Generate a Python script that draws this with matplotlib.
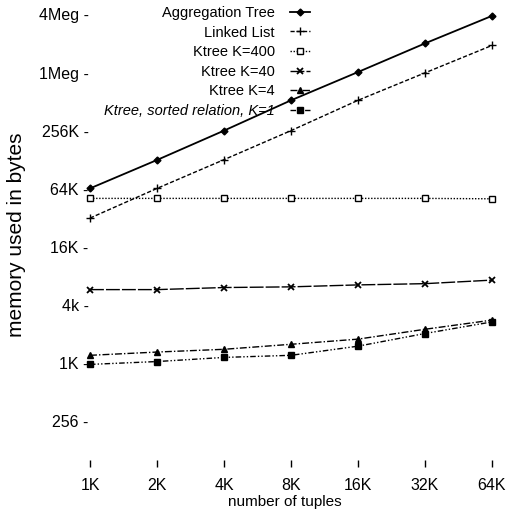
import matplotlib
matplotlib.use('Agg')
import matplotlib.pyplot as plt
import numpy as np

# number of tuples (x) and memory in bytes (y)
tuples = [1024, 2048, 4096, 8192, 16384, 32768, 65536]
x_labels = ['1K', '2K', '4K', '8K', '16K', '32K', '64K']

agg_tree = [66000, 130000, 262000, 540000, 1060000, 2100000, 4050000]
linked_list = [32500, 66000, 131000, 262000, 540000, 1040000, 2000000]
ktree_400 = [52000, 52000, 52000, 52000, 52000, 52000, 51500]
ktree_40 = [5900, 5900, 6200, 6300, 6600, 6800, 7400]
ktree_4 = [1230, 1330, 1420, 1600, 1810, 2290, 2850]
ktree_1 = [990, 1060, 1170, 1230, 1530, 2070, 2730]

y_ticks = [256, 1024, 4096, 16384, 65536, 262144, 1048576, 4194304]
y_labels = ['256 -', '1K -', '4k -', '16K -', '64K -', '256K -', '1Meg -', '4Meg -']

narrow = ['Liberation Sans', 'DejaVu Sans']

fig = plt.figure(figsize=(5.10, 5.12), dpi=100)
ax = fig.add_axes([90 / 510, 45 / 512, 402 / 510, 462 / 512])
ax.set_xscale('log', base=2)
ax.set_yscale('log', base=2)

kw = dict(color='black', clip_on=False)
ax.plot(tuples, agg_tree, '-', marker='D', ms=3.5, lw=1.3, label='Aggregation Tree', **kw)
ax.plot(tuples, linked_list, linestyle=(0, (3, 1.5)), marker='+', ms=6, mew=1, lw=1,
        label='Linked List', **kw)
ax.plot(tuples, ktree_400, linestyle=(0, (1, 1.2)), marker='s', ms=4.5, mfc='white', mew=1,
        lw=1, label='Ktree K=400', **kw)
ax.plot(tuples, ktree_40, linestyle=(0, (10, 1.5)), marker='x', ms=5, mew=1.3, lw=1,
        label='Ktree K=40', **kw)
ax.plot(tuples, ktree_4, linestyle=(0, (5, 1.5, 1, 1.5)), marker='^', ms=5, lw=1,
        label='Ktree K=4', **kw)
ax.plot(tuples, ktree_1, linestyle=(0, (4, 1.5, 1, 1.5, 1, 1.5)), marker='s', ms=4, lw=1,
        label='Ktree, sorted relation, K=1', **kw)

ax.set_xlim(1024, 65536)
ax.set_ylim(1024 * 2 ** (-104 / 29.05), 1024 * 2 ** (358 / 29.05))

ax.set_xticks(tuples)
ax.set_xticklabels(x_labels, family=narrow, fontsize=11.5)
ax.set_yticks(y_ticks)
ax.set_yticklabels(y_labels, family=narrow, fontsize=11.5)
ax.minorticks_off()
ax.tick_params(axis='y', length=0, pad=1)
ax.tick_params(axis='x', direction='in', length=5, width=1, pad=8)
for s in ax.spines.values():
    s.set_visible(False)

ax.set_ylabel('memory used in bytes', fontsize=15, family=narrow)
ax.yaxis.set_label_coords(-64 / 402, (512 - 235 - 45) / 462)
ax.set_xlabel('number of tuples', family=narrow, fontsize=11)
ax.xaxis.set_label_coords((285 - 90) / 402, -(495 - 467) / 462)

leg = ax.legend(loc='upper right', bbox_to_anchor=(310 / 510, 1 - 6 / 512),
                bbox_transform=fig.transFigure, frameon=False, markerfirst=False,
                prop={'family': narrow, 'size': 10.5}, handlelength=1.4,
                handletextpad=1.0, labelspacing=0.38, borderpad=0, borderaxespad=0)
leg.get_texts()[-1].set_fontstyle('italic')

fig.savefig('out.png', dpi=100, facecolor='white')
